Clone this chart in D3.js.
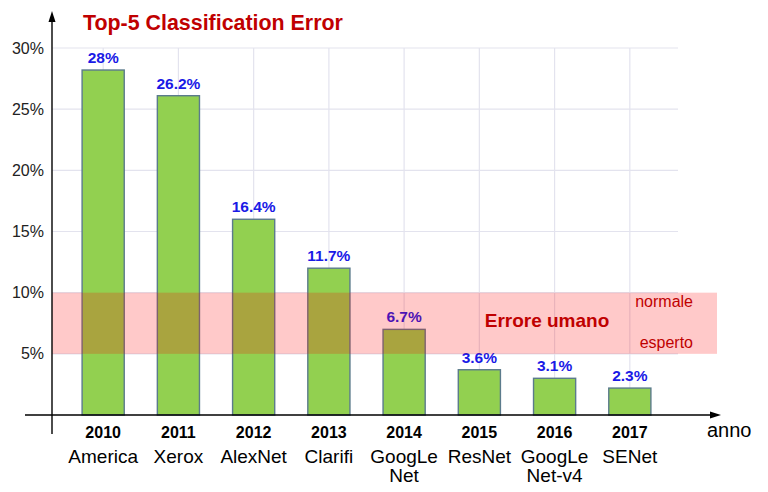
<head><script src="https://d3js.org/d3.v7.min.js"></script></head>

<body style="margin:0;background:#fff">
  <svg class="chart" width="768" height="492"></svg>

  <script>
    // chart data (bar heights as drawn in the picture, labels as printed)
    var years = ["2010", "2011", "2012", "2013", "2014", "2015", "2016", "2017"];
    var names = [["America"], ["Xerox"], ["AlexNet"], ["Clarifi"], ["GoogLe", "Net"], ["ResNet"], ["GoogLe", "Net-v4"], ["SENet"]];
    var errors = [28.2, 26.1, 16.0, 12.0, 7.0, 3.7, 3.0, 2.2];
    var valueLabels = ["28%", "26.2%", "16.4%", "11.7%", "6.7%", "3.6%", "3.1%", "2.3%"];
    var yTicks = [5, 10, 15, 20, 25, 30];
    var humanBand = [5, 10];

    var svg = d3.select(".chart");
    var font = "'Liberation Sans', Arial, sans-serif";

    var x = d3.scaleBand().domain(years).range([49, 684]).padding(0.44);
    var y = d3.scaleLinear().domain([0, 30]).range([415, 48]);

    // grid
    svg.append("g").selectAll("line").data(yTicks).enter().append("line")
      .attr("x1", 52).attr("x2", 678)
      .attr("y1", d => y(d)).attr("y2", d => y(d))
      .attr("stroke", "#e3e3ee").attr("stroke-width", 1.2);
    svg.append("g").selectAll("line").data(years).enter().append("line")
      .attr("x1", d => x(d) + x.bandwidth() / 2).attr("x2", d => x(d) + x.bandwidth() / 2)
      .attr("y1", y(30)).attr("y2", y(0))
      .attr("stroke", "#e3e3ee").attr("stroke-width", 1.2);

    // bars
    svg.append("g").selectAll("rect").data(errors).enter().append("rect")
      .attr("x", (d, i) => x(years[i]))
      .attr("y", d => y(d))
      .attr("width", x.bandwidth())
      .attr("height", d => y(0) - y(d))
      .attr("fill", "#92d050")
      .attr("stroke", "#5b7b8c").attr("stroke-width", 1.4);

    // value labels
    svg.append("g").selectAll("text").data(errors).enter().append("text")
      .attr("x", (d, i) => x(years[i]) + x.bandwidth() / 2)
      .attr("y", d => y(d) - 7)
      .attr("text-anchor", "middle")
      .style("font-family", font).style("font-size", "15.5px").style("font-weight", "bold")
      .attr("fill", "#1a1ae6")
      .text((d, i) => valueLabels[i]);

    // human error band, translucent red over everything
    svg.append("rect")
      .attr("x", 52).attr("width", 717 - 52)
      .attr("y", y(humanBand[1])).attr("height", y(humanBand[0]) - y(humanBand[1]))
      .attr("fill", "#ff0000").attr("fill-opacity", 0.21);

    svg.append("text").attr("x", 547).attr("y", 327).attr("text-anchor", "middle")
      .style("font-family", font).style("font-size", "19px").style("font-weight", "bold")
      .attr("fill", "#c00000").text("Errore umano");
    svg.append("text").attr("x", 693).attr("y", 307).attr("text-anchor", "end")
      .style("font-family", font).style("font-size", "16px")
      .attr("fill", "#c00000").text("normale");
    svg.append("text").attr("x", 693).attr("y", 348).attr("text-anchor", "end")
      .style("font-family", font).style("font-size", "16px")
      .attr("fill", "#c00000").text("esperto");

    // y tick labels
    var yAxis = svg.append("g").attr("transform", "translate(52,0)")
      .call(d3.axisLeft(y).tickValues(yTicks).tickFormat(d => d + "%").tickSize(0).tickPadding(8));
    yAxis.select(".domain").remove();
    yAxis.selectAll("text").style("font-family", font).style("font-size", "16px").attr("fill", "#222");

    // axes lines with arrows
    svg.append("line").attr("x1", 52).attr("x2", 52).attr("y1", 20).attr("y2", 434)
      .attr("stroke", "#000").attr("stroke-width", 1.4);
    svg.append("path").attr("d", "M52,11 L48.5,22 L55.5,22 Z").attr("fill", "#000");
    svg.append("line").attr("x1", 25).attr("x2", 712).attr("y1", 415).attr("y2", 415)
      .attr("stroke", "#000").attr("stroke-width", 1.4);
    svg.append("path").attr("d", "M721,415 L710,411.5 L710,418.5 Z").attr("fill", "#000");

    // category labels: year in bold, model name below
    svg.append("g").selectAll("text").data(years).enter().append("text")
      .attr("x", d => x(d) + x.bandwidth() / 2).attr("y", 438)
      .attr("text-anchor", "middle")
      .style("font-family", font).style("font-size", "16px").style("font-weight", "bold")
      .attr("fill", "#000").text(d => d);
    years.forEach(function(yr, i) {
      names[i].forEach(function(line, j) {
        svg.append("text")
          .attr("x", x(yr) + x.bandwidth() / 2).attr("y", 463 + j * 19)
          .attr("text-anchor", "middle")
          .style("font-family", font).style("font-size", "19px")
          .attr("fill", "#000").text(line);
      });
    });

    svg.append("text").attr("x", 707).attr("y", 437)
      .style("font-family", font).style("font-size", "20px").attr("fill", "#000").text("anno");

    // title
    svg.append("text").attr("x", 83).attr("y", 30)
      .style("font-family", font).style("font-size", "21.4px").style("font-weight", "bold")
      .attr("fill", "#c00000").text("Top-5 Classification Error");
  </script>
</body>
